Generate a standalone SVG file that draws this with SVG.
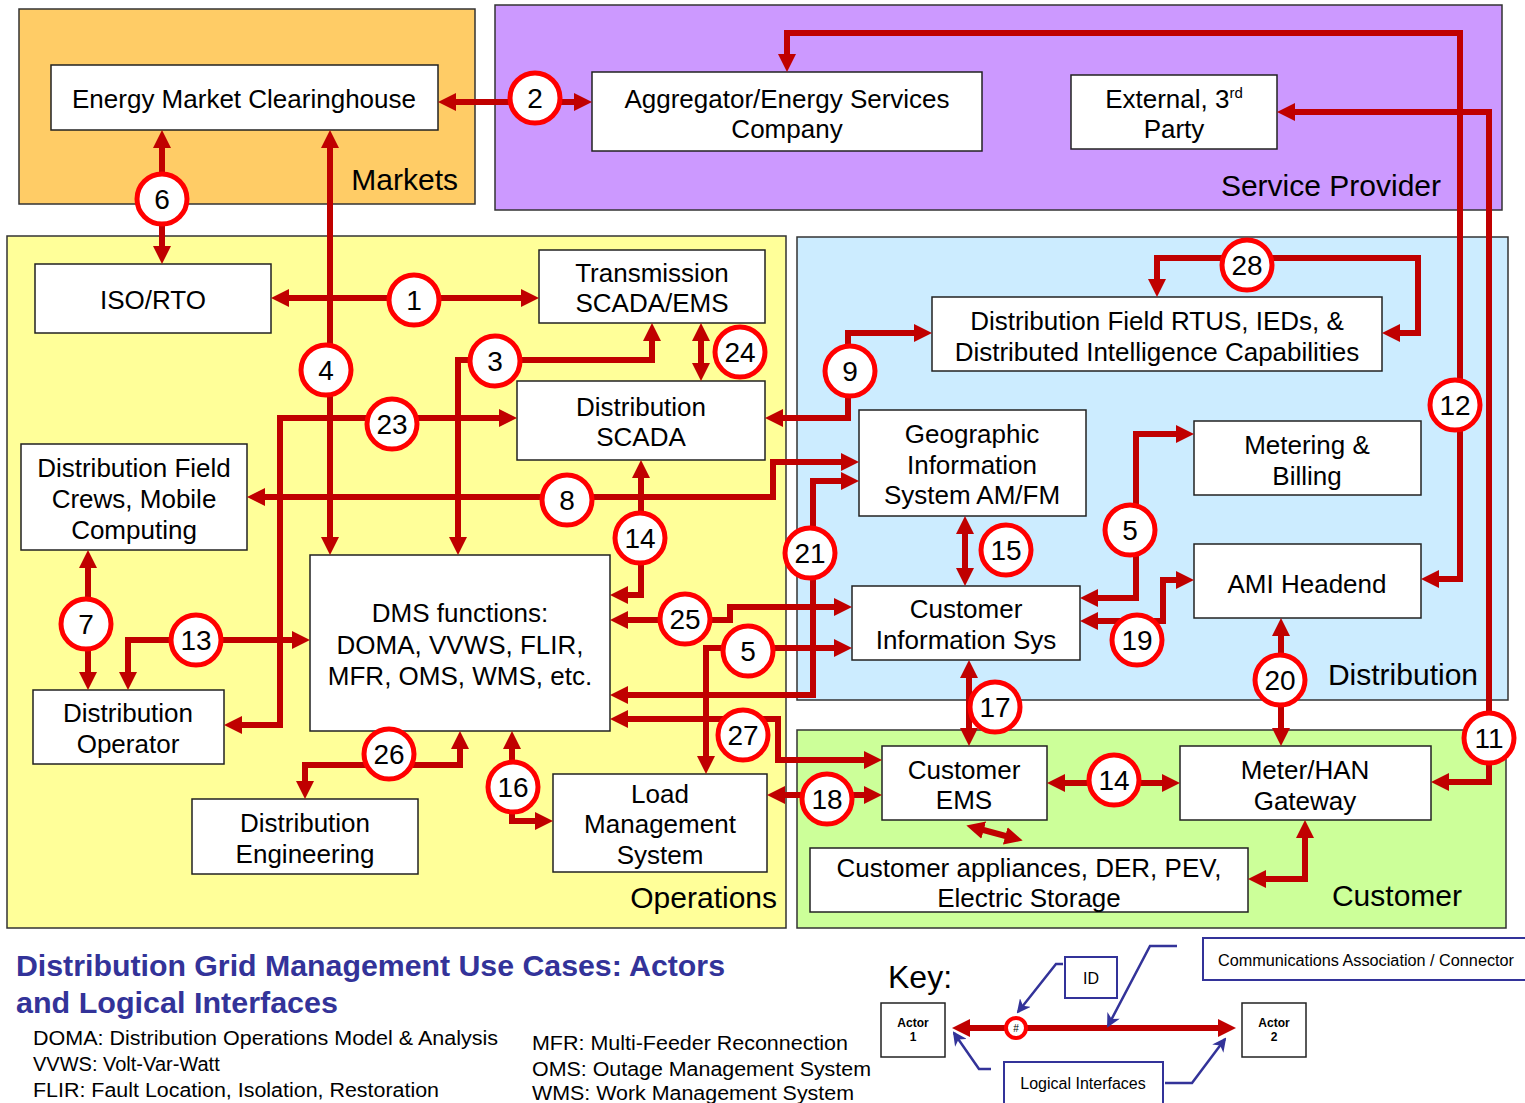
<svg xmlns="http://www.w3.org/2000/svg" width="1525" height="1103" viewBox="0 0 1525 1103">
<style>
.rg{stroke:#333;stroke-width:1.5}
.nd rect{fill:#fff;stroke:#222;stroke-width:1.5}
.nt{font-family:"Liberation Sans",Arial,sans-serif;font-size:26px;fill:#000;text-anchor:middle}
.gl{font-family:"Liberation Sans",Arial,sans-serif;font-size:30px;fill:#000;text-anchor:end}
.c{fill:none;stroke:#C00000;stroke-width:6;marker-start:url(#a);marker-end:url(#a)}
.bc{fill:#fff;stroke:#FF0000;stroke-width:5}
.bt{font-family:"Liberation Sans",Arial,sans-serif;font-size:28px;fill:#000;text-anchor:middle}
.kb{fill:#fff;stroke:#333399;stroke-width:2}
.kl{fill:none;stroke:#333399;stroke-width:2.5;marker-end:url(#b)}
.kt{font-family:"Liberation Sans",Arial,sans-serif;font-size:16px;fill:#000;text-anchor:middle}
.ab{font-family:"Liberation Sans",Arial,sans-serif;font-size:20px;fill:#000}
</style>
<defs>
<marker id="a" viewBox="0 0 18 18" refX="8" refY="9" markerWidth="18" markerHeight="18" markerUnits="userSpaceOnUse" orient="auto-start-reverse"><path d="M0,0 L18,9 L0,18 z" fill="#C00000"/></marker>
<marker id="b" viewBox="0 0 14 14" refX="12" refY="7" markerWidth="14" markerHeight="14" markerUnits="userSpaceOnUse" orient="auto"><path d="M0,0 L14,7 L0,14 L4,7 z" fill="#333399"/></marker>
</defs>
<rect width="1525" height="1103" fill="#fff"/>

<g id="regions">
<rect class="rg" x="19" y="9" width="456" height="195" fill="#FFCC66"/>
<text class="gl" x="458" y="190">Markets</text>
<rect class="rg" x="495" y="5" width="1007" height="205" fill="#CC99FF"/>
<text class="gl" x="1441" y="196">Service Provider</text>
<rect class="rg" x="7" y="236" width="779" height="692" fill="#FFFF99"/>
<text class="gl" x="777" y="908">Operations</text>
<rect class="rg" x="797" y="237" width="711" height="463" fill="#CCECFF"/>
<text class="gl" x="1478" y="685">Distribution</text>
<rect class="rg" x="797" y="730" width="709" height="198" fill="#CCFF99"/>
<text class="gl" x="1462" y="906">Customer</text>
</g>

<g id="n-emc" class="nd"><rect x="51" y="65" width="387" height="65"/><text class="nt" x="244" y="108">Energy Market Clearinghouse</text></g>
<g id="n-agg" class="nd"><rect x="592" y="72" width="390" height="79"/><text class="nt" x="787" y="108">Aggregator/Energy Services</text><text class="nt" x="787" y="138">Company</text></g>
<g id="n-ext" class="nd"><rect x="1071" y="75" width="206" height="74"/><text class="nt" x="1174" y="108">External, 3<tspan font-size="15" dy="-10">rd</tspan></text><text class="nt" x="1174" y="138">Party</text></g>
<g id="n-iso" class="nd"><rect x="35" y="264" width="236" height="69"/><text class="nt" x="153" y="309">ISO/RTO</text></g>
<g id="n-tscada" class="nd"><rect x="539" y="250" width="226" height="73"/><text class="nt" x="652" y="282">Transmission</text><text class="nt" x="652" y="312">SCADA/EMS</text></g>
<g id="n-dscada" class="nd"><rect x="517" y="381" width="248" height="79"/><text class="nt" x="641" y="416">Distribution</text><text class="nt" x="641" y="446">SCADA</text></g>
<g id="n-rtu" class="nd"><rect x="932" y="297" width="450" height="74"/><text class="nt" x="1157" y="330">Distribution Field RTUS, IEDs, &amp;</text><text class="nt" x="1157" y="361">Distributed Intelligence Capabilities</text></g>
<g id="n-gis" class="nd"><rect x="859" y="410" width="227" height="106"/><text class="nt" x="972" y="443">Geographic</text><text class="nt" x="972" y="474">Information</text><text class="nt" x="972" y="504">System AM/FM</text></g>
<g id="n-meter" class="nd"><rect x="1194" y="421" width="227" height="74"/><text class="nt" x="1307" y="454">Metering &amp;</text><text class="nt" x="1307" y="485">Billing</text></g>
<g id="n-ami" class="nd"><rect x="1194" y="544" width="227" height="74"/><text class="nt" x="1307" y="593">AMI Headend</text></g>
<g id="n-crews" class="nd"><rect x="21" y="444" width="226" height="106"/><text class="nt" x="134" y="477">Distribution Field</text><text class="nt" x="134" y="508">Crews, Mobile</text><text class="nt" x="134" y="539">Computing</text></g>
<g id="n-dms" class="nd"><rect x="310" y="555" width="300" height="176"/><text class="nt" x="460" y="622">DMS functions:</text><text class="nt" x="460" y="654">DOMA, VVWS, FLIR,</text><text class="nt" x="460" y="685">MFR, OMS, WMS, etc.</text></g>
<g id="n-cis" class="nd"><rect x="852" y="586" width="228" height="74"/><text class="nt" x="966" y="618">Customer</text><text class="nt" x="966" y="649">Information Sys</text></g>
<g id="n-op" class="nd"><rect x="33" y="690" width="191" height="74"/><text class="nt" x="128" y="722">Distribution</text><text class="nt" x="128" y="753">Operator</text></g>
<g id="n-eng" class="nd"><rect x="192" y="799" width="226" height="75"/><text class="nt" x="305" y="832">Distribution</text><text class="nt" x="305" y="863">Engineering</text></g>
<g id="n-lms" class="nd"><rect x="553" y="774" width="214" height="98"/><text class="nt" x="660" y="803">Load</text><text class="nt" x="660" y="833">Management</text><text class="nt" x="660" y="864">System</text></g>
<g id="n-cems" class="nd"><rect x="882" y="746" width="165" height="74"/><text class="nt" x="964" y="779">Customer</text><text class="nt" x="964" y="809">EMS</text></g>
<g id="n-han" class="nd"><rect x="1180" y="746" width="251" height="74"/><text class="nt" x="1305" y="779">Meter/HAN</text><text class="nt" x="1305" y="810">Gateway</text></g>
<g id="n-app" class="nd"><rect x="810" y="848" width="438" height="64"/><text class="nt" x="1029" y="877">Customer appliances, DER, PEV,</text><text class="nt" x="1029" y="907">Electric Storage</text></g>

<g id="connectors">
<path class="c" d="M281,298 H529"/>
<path class="c" d="M448,102 H582"/>
<path class="c" d="M652,333 V360 H458 V545"/>
<path class="c" d="M330,140 V545"/>
<path class="c" d="M706,764 V648 H842"/>
<path class="c" d="M1090,598 H1136 V434 H1184"/>
<path class="c" d="M162,140 V254"/>
<path class="c" d="M88,560 V680"/>
<path class="c" d="M257,497 H773 V462 H849"/>
<path class="c" d="M775,418 H848 V333 H922"/>
<path class="c" d="M1287,112 H1489 V782 H1441"/>
<path class="c" d="M787,62 V33 H1460 V579 H1431"/>
<path class="c" d="M300,640 H128 V680"/>
<path class="c" d="M641,470 V595 H620"/>
<path class="c" d="M1057,783 H1170"/>
<path class="c" d="M965,526 V576"/>
<path class="c" d="M512,741 V821 H543"/>
<path class="c" d="M969,670 V736"/>
<path class="c" d="M777,795 H872"/>
<path class="c" d="M1090,621 H1163 V580 H1184"/>
<path class="c" d="M1281,628 V736"/>
<path class="c" d="M620,695 H813 V481 H849"/>
<path class="c" d="M234,725 H280 V418 H507"/>
<path class="c" d="M701,333 V371"/>
<path class="c" d="M620,620 H730 V607 H842"/>
<path class="c" d="M460,741 V765 H305 V789"/>
<path class="c" d="M620,719 H778 V760 H872"/>
<path class="c" d="M1157,287 V258 H1418 V333 H1392"/>
<path class="c" d="M976,828 L1013,838"/>
<path class="c" d="M1305,830 V879 H1258"/>
</g>

<g id="badges">
<circle class="bc" cx="414" cy="300" r="25"/><text class="bt" x="414" y="310">1</text>
<circle class="bc" cx="535" cy="98" r="25"/><text class="bt" x="535" y="108">2</text>
<circle class="bc" cx="495" cy="361" r="25"/><text class="bt" x="495" y="371">3</text>
<circle class="bc" cx="326" cy="370" r="25"/><text class="bt" x="326" y="380">4</text>
<circle class="bc" cx="748" cy="651" r="25"/><text class="bt" x="748" y="661">5</text>
<circle class="bc" cx="1130" cy="530" r="25"/><text class="bt" x="1130" y="540">5</text>
<circle class="bc" cx="162" cy="199" r="25"/><text class="bt" x="162" y="209">6</text>
<circle class="bc" cx="86" cy="624" r="25"/><text class="bt" x="86" y="634">7</text>
<circle class="bc" cx="567" cy="500" r="25"/><text class="bt" x="567" y="510">8</text>
<circle class="bc" cx="850" cy="371" r="25"/><text class="bt" x="850" y="381">9</text>
<circle class="bc" cx="1489" cy="738" r="25"/><text class="bt" x="1489" y="748">11</text>
<circle class="bc" cx="1455" cy="405" r="25"/><text class="bt" x="1455" y="415">12</text>
<circle class="bc" cx="196" cy="640" r="25"/><text class="bt" x="196" y="650">13</text>
<circle class="bc" cx="640" cy="538" r="25"/><text class="bt" x="640" y="548">14</text>
<circle class="bc" cx="1114" cy="780" r="25"/><text class="bt" x="1114" y="790">14</text>
<circle class="bc" cx="1006" cy="550" r="25"/><text class="bt" x="1006" y="560">15</text>
<circle class="bc" cx="513" cy="787" r="25"/><text class="bt" x="513" y="797">16</text>
<circle class="bc" cx="995" cy="707" r="25"/><text class="bt" x="995" y="717">17</text>
<circle class="bc" cx="827" cy="799" r="25"/><text class="bt" x="827" y="809">18</text>
<circle class="bc" cx="1137" cy="640" r="25"/><text class="bt" x="1137" y="650">19</text>
<circle class="bc" cx="1280" cy="680" r="25"/><text class="bt" x="1280" y="690">20</text>
<circle class="bc" cx="810" cy="553" r="25"/><text class="bt" x="810" y="563">21</text>
<circle class="bc" cx="392" cy="424" r="25"/><text class="bt" x="392" y="434">23</text>
<circle class="bc" cx="740" cy="352" r="25"/><text class="bt" x="740" y="362">24</text>
<circle class="bc" cx="685" cy="619" r="25"/><text class="bt" x="685" y="629">25</text>
<circle class="bc" cx="389" cy="754" r="25"/><text class="bt" x="389" y="764">26</text>
<circle class="bc" cx="743" cy="735" r="25"/><text class="bt" x="743" y="745">27</text>
<circle class="bc" cx="1247" cy="265" r="25"/><text class="bt" x="1247" y="275">28</text>
</g>

<g id="title">
<text x="16" y="976" font-family="'Liberation Sans',Arial,sans-serif" font-size="30" font-weight="bold" fill="#333399" textLength="709" lengthAdjust="spacingAndGlyphs">Distribution Grid Management Use Cases: Actors</text>
<text x="16" y="1013" font-family="'Liberation Sans',Arial,sans-serif" font-size="30" font-weight="bold" fill="#333399" textLength="322" lengthAdjust="spacingAndGlyphs">and Logical Interfaces</text>
<text class="ab" x="33" y="1045" textLength="465" lengthAdjust="spacingAndGlyphs">DOMA: Distribution Operations Model &amp; Analysis</text>
<text class="ab" x="33" y="1071">VVWS: Volt-Var-Watt</text>
<text class="ab" x="33" y="1097" textLength="406" lengthAdjust="spacingAndGlyphs">FLIR: Fault Location, Isolation, Restoration</text>
<text class="ab" x="532" y="1050" textLength="316" lengthAdjust="spacingAndGlyphs">MFR: Multi-Feeder  Reconnection</text>
<text class="ab" x="532" y="1076" textLength="339" lengthAdjust="spacingAndGlyphs">OMS: Outage Management System</text>
<text class="ab" x="532" y="1100" textLength="322" lengthAdjust="spacingAndGlyphs">WMS: Work Management  System</text>
</g>

<g id="key">
<text x="888" y="988" font-family="'Liberation Sans',Arial,sans-serif" font-size="32" fill="#000">Key:</text>
<g id="k-actor1"><rect x="881" y="1003" width="64" height="54" fill="#fff" stroke="#222" stroke-width="1.5"/><text x="913" y="1027" font-family="'Liberation Sans',Arial,sans-serif" font-size="12" font-weight="bold" text-anchor="middle">Actor</text><text x="913" y="1041" font-family="'Liberation Sans',Arial,sans-serif" font-size="12" font-weight="bold" text-anchor="middle">1</text></g>
<g id="k-actor2"><rect x="1242" y="1003" width="64" height="54" fill="#fff" stroke="#222" stroke-width="1.5"/><text x="1274" y="1027" font-family="'Liberation Sans',Arial,sans-serif" font-size="12" font-weight="bold" text-anchor="middle">Actor</text><text x="1274" y="1041" font-family="'Liberation Sans',Arial,sans-serif" font-size="12" font-weight="bold" text-anchor="middle">2</text></g>
<path class="c" d="M962,1028 H1226"/>
<circle cx="1016" cy="1028" r="10" fill="#fff" stroke="#FF0000" stroke-width="4"/>
<text x="1016" y="1032" font-family="'Liberation Sans',Arial,sans-serif" font-size="10" text-anchor="middle">#</text>
<rect class="kb" x="1065" y="957" width="52" height="41"/><text class="kt" x="1091" y="984">ID</text>
<rect class="kb" x="1203" y="938" width="330" height="42"/><text class="kt" x="1366" y="966" textLength="296" lengthAdjust="spacingAndGlyphs">Communications Association / Connector</text>
<rect class="kb" x="1004" y="1062" width="159" height="45"/><text class="kt" x="1083" y="1089">Logical Interfaces</text>
<path class="kl" d="M1063,964 H1056 L1018,1012"/>
<path class="kl" d="M1177,946 H1150 L1108,1026"/>
<path class="kl" d="M991,1069 H979 L954,1033"/>
<path class="kl" d="M1165,1083 H1192 L1225,1039"/>
</g>
</svg>
